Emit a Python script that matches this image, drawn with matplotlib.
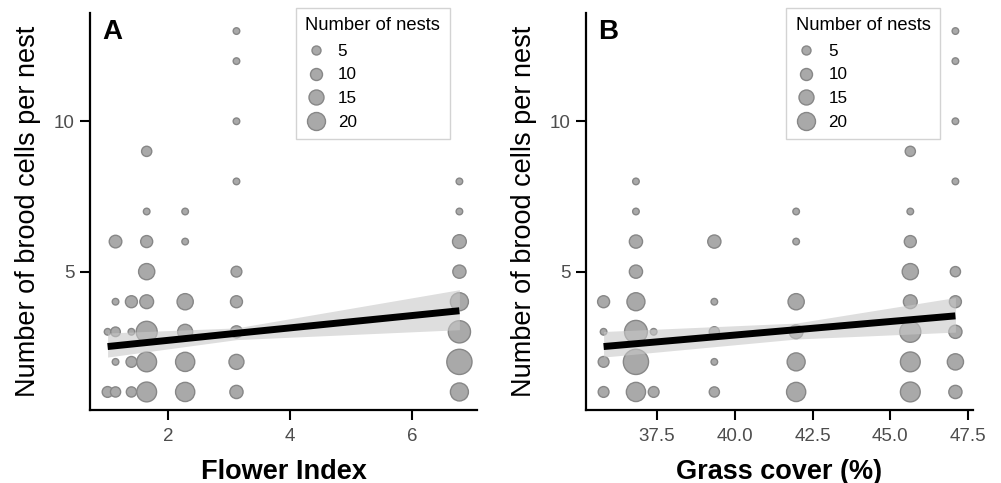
import matplotlib
matplotlib.use("Agg")
import matplotlib.pyplot as plt
from matplotlib.lines import Line2D
import numpy as np

plt.rcParams['font.family'] = ['Liberation Sans', 'DejaVu Sans']

# ---- Panel A: flower index ----
flower_x = [1.01, 1.01,
            1.14, 1.14, 1.14, 1.14, 1.14,
            1.40, 1.40, 1.40, 1.40,
            1.65, 1.65, 1.65, 1.65, 1.65, 1.65, 1.65, 1.65,
            2.28, 2.28, 2.28, 2.28, 2.28, 2.28,
            3.12, 3.12, 3.12, 3.12, 3.12, 3.12, 3.12, 3.12, 3.12,
            6.77, 6.77, 6.77, 6.77, 6.77, 6.77, 6.77, 6.77]
flower_cells = [1, 3,
                1, 2, 3, 4, 6,
                1, 2, 3, 4,
                1, 2, 3, 4, 5, 6, 7, 9,
                1, 2, 3, 4, 6, 7,
                1, 2, 3, 4, 5, 8, 10, 12, 13,
                1, 2, 3, 4, 5, 6, 7, 8]
flower_nests = [8, 1,
                7, 1, 6, 1, 11,
                7, 8, 1, 10,
                23, 23, 25, 13, 17, 10, 1, 7,
                22, 22, 15, 17, 1, 1,
                12, 15, 10, 10, 8, 1, 1, 1, 1,
                20, 32, 27, 20, 12, 13, 1, 1]
# fitted line and confidence band
flower_fit_x = [1.01, 3.12, 6.77]
flower_fit = [2.51, 2.95, 3.70]
flower_lo = [2.16, 2.74, 3.07]
flower_hi = [2.96, 3.13, 4.40]
flower_ticks = [2, 4, 6]

# ---- Panel B: grass cover ----
grass_x = [35.78, 35.78, 35.78, 35.78,
           36.82, 36.82, 36.82, 36.82, 36.82, 36.82, 36.82, 36.82,
           37.39, 37.39,
           39.34, 39.34, 39.34, 39.34, 39.34,
           41.97, 41.97, 41.97, 41.97, 41.97, 41.97,
           45.64, 45.64, 45.64, 45.64, 45.64, 45.64, 45.64, 45.64,
           47.09, 47.09, 47.09, 47.09, 47.09, 47.09, 47.09, 47.09, 47.09]
grass_cells = [1, 2, 3, 4,
               1, 2, 3, 4, 5, 6, 7, 8,
               1, 3,
               1, 2, 3, 4, 6,
               1, 2, 3, 4, 6, 7,
               1, 2, 3, 4, 5, 6, 7, 9,
               1, 2, 3, 4, 5, 8, 10, 12, 13]
grass_nests = [8, 8, 1, 10,
               22, 32, 28, 20, 12, 12, 1, 1,
               8, 1,
               7, 1, 7, 1, 12,
               22, 20, 13, 17, 1, 1,
               23, 23, 25, 13, 17, 10, 1, 7,
               12, 17, 12, 10, 7, 1, 1, 1, 1]
grass_fit_x = [35.78, 41.97, 47.09]
grass_fit = [2.51, 3.07, 3.53]
grass_lo = [2.16, 2.76, 2.99]
grass_hi = [3.01, 3.29, 4.14]
grass_ticks = [37.5, 40.0, 42.5, 45.0, 47.5]

legend_sizes = [5, 10, 15, 20]

PT = 0.72  # points per pixel at 100 dpi


def diam_pt(n):
    # marker diameter grows linearly with the number of nests
    return (6.0 + 0.6 * np.asarray(n, dtype=float)) * PT


FILL = '#a9a9a9'
EDGE = '#878787'
TICK_COL = '#4d4d4d'

fig = plt.figure(figsize=(10.01, 4.83), dpi=100)
axA = fig.add_axes([90 / 1001, 73 / 483, 387 / 1001, 397 / 483])
axB = fig.add_axes([586 / 1001, 73 / 483, 387 / 1001, 397 / 483])


def draw_panel(ax, x, cells, nests, fx, fy, lo, hi, ticks, tick_fmt,
               xlabel, letter, leg_x):
    ax.scatter(x, cells, s=diam_pt(nests) ** 2, facecolor=FILL,
               edgecolor=EDGE, linewidth=1.0, zorder=2)
    ax.fill_between(fx, lo, hi, color='#c8c8c8', alpha=0.6, linewidth=0,
                    zorder=3)
    ax.plot(fx, fy, color='black', linewidth=5, solid_capstyle='butt',
            zorder=4)

    xmin, xmax = min(x), max(x)
    pad = 0.05 * (xmax - xmin)
    ax.set_xlim(xmin - pad, xmax + pad)
    ax.set_ylim(0.4, 13.6)
    ax.set_xticks(ticks)
    ax.set_xticklabels([tick_fmt.format(t) for t in ticks])
    ax.set_yticks([5, 10])

    for side in ('top', 'right'):
        ax.spines[side].set_visible(False)
    for side in ('left', 'bottom'):
        ax.spines[side].set_linewidth(1.6)
        ax.spines[side].set_color('black')
    ax.tick_params(axis='both', length=7.5, width=1.5, color='black',
                   labelsize=13.5, labelcolor=TICK_COL, pad=3.5)
    ax.tick_params(axis='x', pad=5.5)

    ax.set_xlabel(xlabel, fontsize=19.5, fontweight='bold', labelpad=10)
    ax.set_ylabel('Number of brood cells per nest', fontsize=19.5,
                  labelpad=9)
    ax.text(0.032, 0.986, letter, transform=ax.transAxes, fontsize=20,
            fontweight='bold', ha='left', va='top', zorder=6)

    handles = [Line2D([], [], linestyle='none', marker='o',
                      markersize=float(diam_pt(n)), markerfacecolor=FILL,
                      markeredgecolor=EDGE, markeredgewidth=1.0)
               for n in legend_sizes]
    leg = ax.legend(handles, [str(n) for n in legend_sizes],
                    title='Number of nests', loc='upper left',
                    bbox_to_anchor=(leg_x, 1.013), fontsize=12.3,
                    title_fontsize=13.2, frameon=True, fancybox=False,
                    borderpad=0.55, labelspacing=0.5, handletextpad=0.7,
                    handlelength=1.2, borderaxespad=0)
    leg.get_frame().set_edgecolor('#c8c8c8')
    leg.get_frame().set_linewidth(1.0)
    leg._legend_box.align = 'left'
    leg._legend_box.sep = 7
    leg.set_zorder(7)


draw_panel(axA, flower_x, flower_cells, flower_nests, flower_fit_x,
           flower_fit, flower_lo, flower_hi, flower_ticks, '{:g}',
           'Flower Index', 'A', 0.532)
draw_panel(axB, grass_x, grass_cells, grass_nests, grass_fit_x,
           grass_fit, grass_lo, grass_hi, grass_ticks, '{:.1f}',
           'Grass cover (%)', 'B', 0.518)

fig.savefig('out.png', dpi=100)
